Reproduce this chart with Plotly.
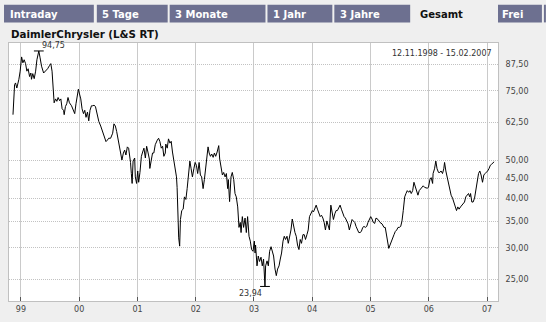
import numpy as np
import plotly.graph_objects as go

# ---------------- data ----------------
dates = [
    "1998-11-12", "1998-11-16", "1998-11-22", "1998-11-28", "1998-12-06", "1998-12-19", "1998-12-27",
    "1999-01-05", "1999-01-13", "1999-01-21", "1999-01-30", "1999-02-07", "1999-02-15", "1999-02-24",
    "1999-03-04", "1999-03-08", "1999-03-16", "1999-03-25", "1999-04-03", "1999-04-11", "1999-04-19",
    "1999-04-23", "1999-05-01", "1999-05-10", "1999-05-23", "1999-06-04", "1999-06-17", "1999-06-29",
    "1999-07-07", "1999-07-15", "1999-07-20", "1999-07-28", "1999-08-06", "1999-08-14", "1999-08-22",
    "1999-08-31", "1999-09-08", "1999-09-16", "1999-09-25", "1999-09-29", "1999-10-07", "1999-10-15",
    "1999-10-23", "1999-11-01", "1999-11-14", "1999-11-26", "1999-12-04", "1999-12-12", "1999-12-21",
    "1999-12-27",
    "2000-01-03", "2000-01-11", "2000-01-19", "2000-01-28", "2000-02-05", "2000-02-13", "2000-02-22",
    "2000-03-01", "2000-03-09", "2000-03-18", "2000-03-26", "2000-04-03", "2000-04-12", "2000-04-20",
    "2000-05-03", "2000-05-15", "2000-05-23", "2000-06-01", "2000-06-09", "2000-06-17", "2000-06-26",
    "2000-07-04", "2000-07-16", "2000-07-29", "2000-08-06", "2000-08-15", "2000-08-23", "2000-08-31",
    "2000-09-09", "2000-09-17", "2000-09-25", "2000-10-04", "2000-10-12", "2000-10-20", "2000-10-29",
    "2000-11-06", "2000-11-14", "2000-11-18", "2000-11-23", "2000-11-28", "2000-12-04", "2000-12-14",
    "2000-12-18", "2000-12-26",
    "2001-01-02", "2001-01-08", "2001-01-16", "2001-01-25", "2001-02-02", "2001-02-10", "2001-02-19",
    "2001-02-27", "2001-03-07", "2001-03-16", "2001-03-19", "2001-03-28", "2001-04-05", "2001-04-13",
    "2001-04-22", "2001-05-05", "2001-05-13", "2001-05-21", "2001-05-30", "2001-06-07", "2001-06-15",
    "2001-06-24", "2001-06-27", "2001-07-06", "2001-07-14", "2001-07-23", "2001-07-31", "2001-08-08",
    "2001-08-16", "2001-08-25", "2001-09-02", "2001-09-06", "2001-09-10", "2001-09-16", "2001-09-22",
    "2001-09-27", "2001-10-05", "2001-10-14", "2001-10-22", "2001-10-31", "2001-11-08", "2001-11-16",
    "2001-11-25", "2001-12-03", "2001-12-11", "2001-12-20", "2001-12-28",
    "2002-01-05", "2002-01-13", "2002-01-22", "2002-01-30", "2002-02-07", "2002-02-16", "2002-02-24",
    "2002-03-04", "2002-03-13", "2002-03-19", "2002-03-26", "2002-04-03", "2002-04-11", "2002-04-20",
    "2002-04-28", "2002-05-06", "2002-05-15", "2002-05-25", "2002-05-31", "2002-06-09", "2002-06-17",
    "2002-06-25", "2002-07-04", "2002-07-12", "2002-07-20", "2002-07-24", "2002-08-01", "2002-08-10",
    "2002-08-18", "2002-08-27", "2002-09-04", "2002-09-12", "2002-09-21", "2002-09-29", "2002-10-07",
    "2002-10-12", "2002-10-20", "2002-10-28", "2002-11-06", "2002-11-14", "2002-11-22", "2002-12-01",
    "2002-12-09", "2002-12-17", "2002-12-26",
    "2003-01-03", "2003-01-08", "2003-01-11", "2003-01-20", "2003-01-28", "2003-02-05", "2003-02-14",
    "2003-02-22", "2003-03-02", "2003-03-11", "2003-03-15", "2003-03-24", "2003-04-01", "2003-04-09",
    "2003-04-18", "2003-04-26", "2003-05-04", "2003-05-13", "2003-05-21", "2003-05-29", "2003-06-07",
    "2003-06-15", "2003-06-23", "2003-07-02", "2003-07-10", "2003-07-18", "2003-07-27", "2003-08-04",
    "2003-08-12", "2003-08-21", "2003-08-29", "2003-09-06", "2003-09-15", "2003-09-23", "2003-10-01",
    "2003-10-10", "2003-10-18", "2003-10-26", "2003-11-04", "2003-11-12", "2003-11-20", "2003-11-29",
    "2003-12-07", "2003-12-15", "2003-12-24",
    "2004-01-02", "2004-01-09", "2004-01-18", "2004-01-26", "2004-02-03", "2004-02-12", "2004-02-20",
    "2004-02-28", "2004-03-08", "2004-03-16", "2004-03-24", "2004-04-02", "2004-04-10", "2004-04-18",
    "2004-04-27", "2004-05-05", "2004-05-13", "2004-05-22", "2004-05-30", "2004-06-07", "2004-06-16",
    "2004-06-24", "2004-07-02", "2004-07-11", "2004-07-19", "2004-07-27", "2004-08-05", "2004-08-13",
    "2004-08-21", "2004-08-30", "2004-09-07", "2004-09-15", "2004-09-24", "2004-10-02", "2004-10-10",
    "2004-10-19", "2004-10-27", "2004-11-04", "2004-11-13", "2004-11-21", "2004-11-29", "2004-12-08",
    "2004-12-16", "2004-12-24",
    "2005-01-02", "2005-01-10", "2005-01-18", "2005-01-27", "2005-02-04", "2005-02-17", "2005-03-01",
    "2005-03-14", "2005-03-26", "2005-04-03", "2005-04-12", "2005-04-20", "2005-04-25", "2005-05-03",
    "2005-05-11", "2005-05-20", "2005-05-28", "2005-06-05", "2005-06-14", "2005-06-22", "2005-06-30",
    "2005-07-09", "2005-07-17", "2005-07-25", "2005-08-03", "2005-08-11", "2005-08-19", "2005-08-28",
    "2005-09-05", "2005-09-13", "2005-09-22", "2005-09-30", "2005-10-08", "2005-10-17", "2005-10-25",
    "2005-11-02", "2005-11-11", "2005-11-19", "2005-11-27", "2005-12-06", "2005-12-14", "2005-12-22",
    "2005-12-30",
    "2006-01-08", "2006-01-16", "2006-01-25", "2006-01-28", "2006-02-06", "2006-02-14", "2006-02-22",
    "2006-03-03", "2006-03-11", "2006-03-19", "2006-03-28", "2006-04-05", "2006-04-10", "2006-04-18",
    "2006-04-26", "2006-05-05", "2006-05-13", "2006-05-21", "2006-05-30", "2006-06-07", "2006-06-15",
    "2006-06-24", "2006-07-02", "2006-07-10", "2006-07-19", "2006-07-27", "2006-08-05", "2006-08-13",
    "2006-08-21", "2006-08-29", "2006-09-07", "2006-09-15", "2006-09-20", "2006-09-28", "2006-10-06",
    "2006-10-15", "2006-10-23", "2006-10-31", "2006-11-09", "2006-11-17", "2006-11-25", "2006-12-04",
    "2006-12-12", "2006-12-20", "2006-12-29",
    "2007-01-05", "2007-01-13", "2007-01-22", "2007-01-30", "2007-02-07", "2007-02-15",
]

prices = [
    65.3, 70.9, 77.8, 78.6, 76.3, 80.3, 84.2,
    91.5, 88.4, 90.0, 88.0, 84.2, 85.4, 81.6,
    83.3, 80.3, 83.0, 80.6, 84.2, 90.0, 92.9,
    94.75, 91.0, 86.7, 83.3, 84.2, 85.4, 87.0,
    88.0, 84.2, 78.6, 70.0, 71.6, 70.6, 72.2,
    70.9, 71.6, 67.6, 67.0, 65.3, 68.5, 69.6,
    72.2, 70.0, 68.8, 67.0, 65.7, 69.6, 73.7,
    75.8,
    73.7, 71.6, 67.6, 65.7, 67.0, 64.3, 66.3,
    63.0, 67.0, 68.8, 68.8, 69.0, 68.5, 65.7,
    62.8, 61.1, 59.9, 58.0, 56.9, 55.8, 56.3,
    56.9, 56.9, 58.6, 61.9, 61.1, 59.2, 56.9,
    54.8, 51.6, 50.1, 52.2, 53.1, 51.6, 54.1,
    53.7, 51.2, 49.4, 46.3, 43.7, 49.8, 50.7,
    45.4, 43.7,
    47.0, 44.0, 46.6, 51.2, 52.5, 53.7, 50.7,
    54.3, 52.5, 50.4, 47.7, 50.4, 52.2, 52.2,
    54.8, 56.3, 56.9, 55.8, 53.7, 54.3, 51.2,
    52.2, 55.0, 53.7, 56.7, 55.3, 55.9, 52.5,
    50.3, 47.6, 45.4, 42.7, 35.4, 31.8, 30.3,
    35.4, 37.3, 37.6, 40.4, 39.8, 42.4, 45.4,
    49.8, 47.6, 45.4, 47.6, 49.4,
    48.6, 46.3, 49.4, 45.9, 45.4, 42.4, 44.7,
    48.1, 50.4, 54.1, 52.2, 51.2, 51.9, 50.9,
    52.2, 51.2, 52.5, 54.5, 50.4, 47.6, 45.9,
    46.6, 45.4, 46.3, 42.4, 44.7, 39.3, 45.4,
    46.6, 44.7, 41.2, 40.4, 38.1, 33.8, 34.8,
    32.8, 36.0, 33.8, 35.7, 32.8, 36.0, 32.1,
    31.2, 29.7, 29.4,
    31.2, 29.1, 30.5, 27.0, 28.6, 27.7, 28.4,
    27.0, 28.1, 23.94, 27.0, 27.8, 27.0, 29.4,
    30.2, 29.1, 28.6, 26.5, 25.5, 26.5, 27.0,
    28.1, 29.1, 31.2, 32.1, 31.5, 32.1, 30.8,
    31.8, 33.3, 35.5, 34.0, 32.8, 32.1, 30.5,
    29.7, 31.5, 30.8, 32.4, 32.4, 31.5, 32.4,
    33.3, 36.0, 36.6,
    37.3, 37.0, 38.1, 38.5, 37.6, 36.6, 36.0,
    36.3, 35.7, 34.8, 33.3, 35.1, 34.0, 33.3,
    38.5, 36.6, 35.4, 36.6, 37.3, 37.3, 38.1,
    38.5, 37.6, 36.6, 36.0, 35.7, 35.1, 34.5,
    33.3, 34.5, 35.4, 35.1, 34.8, 34.0, 33.3,
    32.8, 32.8, 33.0, 33.8, 34.0, 33.8, 34.0,
    34.8, 35.4,
    36.0, 35.5, 34.8, 34.6, 35.7, 35.4, 34.8,
    34.5, 33.8, 33.8, 32.4, 30.8, 29.9, 30.5,
    31.2, 32.1, 32.4, 33.0, 33.3, 33.8, 33.8,
    34.0, 35.1, 37.3, 40.4, 41.2, 41.9, 41.5,
    41.9, 41.2, 41.9, 44.0, 43.1, 41.9, 40.8,
    41.9, 42.4, 42.7, 43.1, 42.7, 42.5, 42.5,
    42.7,
    44.7, 45.2, 43.7, 46.3, 47.6, 49.8, 47.6,
    46.6, 46.6, 47.0, 46.3, 47.6, 49.4, 47.0,
    45.4, 43.7, 42.4, 40.8, 40.1, 39.2, 38.1,
    37.3, 38.1, 37.6, 38.1, 38.5, 38.9, 39.2,
    40.4, 40.8, 41.2, 40.4, 41.2, 39.2, 39.2,
    40.1, 41.9, 44.7, 46.3, 47.0, 45.9, 44.0,
    45.9, 46.3, 46.6,
    47.0, 47.6, 48.6, 48.9, 49.4, 49.6,
]

year_ticks = ["1999-01-01", "2000-01-01", "2001-01-01", "2002-01-01", "2003-01-01",
              "2004-01-01", "2005-01-01", "2006-01-01", "2007-01-01"]
year_labels = ["99", "00", "01", "02", "03", "04", "05", "06", "07"]
price_ticks = [25, 30, 35, 40, 45, 50, 62.5, 75, 87.5]
price_labels = ["25,00", "30,00", "35,00", "40,00", "45,00", "50,00", "62,50", "75,00", "87,50"]
tab_names = ["Intraday", "5 Tage", "3 Monate", "1 Jahr", "3 Jahre", "Gesamt", "Frei"]
chart_title = "DaimlerChrysler (L&S RT)"
range_text = "12.11.1998 - 15.02.2007"

# ---------------- layout geometry ----------------
W, H = 546, 322
ML, MR, MT, MB = 8, 48, 43, 16
PW, PH = W - ML - MR, H - MT - MB

def pxx(x):
    return (x - ML) / PW

def pxy(y):
    return (H - MB - y) / PH

FONT = "DejaVu Sans"
TAB_COLOR = "#6d7090"
BG = "#efefef"

fig = go.Figure()
fig.add_trace(go.Scatter(x=dates, y=prices, mode="lines",
                         line=dict(color="black", width=1), hoverinfo="skip",
                         showlegend=False))

imax = int(np.argmax(prices))
imin = int(np.argmin(prices))
fig.add_trace(go.Scatter(x=[dates[imax], dates[imin]], y=[prices[imax], prices[imin]],
                         mode="markers", hoverinfo="skip", showlegend=False,
                         marker=dict(symbol="line-ew", size=7, color="black",
                                     line=dict(width=1, color="black"))))

def fmt(v):
    return f"{v:.2f}".replace(".", ",")

annotations = [
    dict(x=dates[imax], y=np.log10(prices[imax]), xref="x", yref="y", text=fmt(prices[imax]),
         showarrow=False, xanchor="left", yanchor="middle", xshift=1, yshift=5,
         font=dict(family=FONT, size=8, color="#333")),
    dict(x=dates[imin], y=np.log10(prices[imin]), xref="x", yref="y", text=fmt(prices[imin]),
         showarrow=False, xanchor="right", yanchor="middle", xshift=-1, yshift=-7,
         font=dict(family=FONT, size=8, color="#333")),
    dict(x=pxx(493.5), y=pxy(53.3), xref="paper", yref="paper", text=range_text,
         showarrow=False, xanchor="right", yanchor="middle",
         font=dict(family=FONT, size=8, color="#333")),
    dict(x=pxx(7.5), y=pxy(34.0), xref="paper", yref="paper", text="<b>" + chart_title + "</b>",
         showarrow=False, xanchor="left", yanchor="middle",
         font=dict(family=FONT, size=10.3, color="#111")),
]

# tabs: (left, right, text-left)
tab_boxes = [(3, 93, 7), (96, 167, 99.3), (169, 265, 172.3), (267, 332, 270.7),
             (334, 410, 337.7), (412, 496, 417.5), (498, 542, 500.5)]
shapes = []
for name, (x0, x1, tx) in zip(tab_names, tab_boxes):
    selected = name == "Gesamt"
    if not selected:
        shapes.append(dict(type="rect", xref="paper", yref="paper",
                           x0=pxx(x0), x1=pxx(x1), y0=pxy(22), y1=pxy(4),
                           fillcolor=TAB_COLOR, line=dict(width=0), layer="above"))
    annotations.append(dict(x=pxx(tx), y=pxy(13.5), xref="paper", yref="paper",
                            text="<b>" + name + "</b>", showarrow=False,
                            xanchor="left", yanchor="middle",
                            font=dict(family=FONT, size=10,
                                      color="#111" if selected else "white")))
shapes.append(dict(type="rect", xref="paper", yref="paper",
                   x0=pxx(544), x1=pxx(546), y0=pxy(22), y1=pxy(4),
                   fillcolor=TAB_COLOR, line=dict(width=0), layer="above"))

fig.update_layout(
    width=W, height=H,
    margin=dict(l=ML, r=MR, t=MT, b=MB, pad=0),
    paper_bgcolor=BG, plot_bgcolor="white",
    showlegend=False,
    annotations=annotations,
    shapes=shapes,
    hovermode=False,
    xaxis=dict(
        type="date", range=["1998-10-18", "2007-03-11"],
        tickmode="array", tickvals=year_ticks, ticktext=year_labels,
        showgrid=True, gridcolor="#cacaca", gridwidth=1,
        ticks="inside", ticklen=4, tickcolor="#555", tickwidth=1,
        showline=True, mirror=True, linecolor="#c0c0c0", linewidth=1,
        zeroline=False, tickfont=dict(family=FONT, size=8, color="#444"),
        fixedrange=True,
    ),
    yaxis=dict(
        type="log", side="right",
        range=[np.log10(21.99), np.log10(99.26)],
        tickmode="array", tickvals=price_ticks, ticktext=price_labels,
        showgrid=True, gridcolor="#c2c2c2", gridwidth=1, griddash="1px,1px",
        ticks="", showline=True, mirror=True, linecolor="#c0c0c0", linewidth=1,
        zeroline=False, tickfont=dict(family=FONT, size=8, color="#444"),
        ticklabelstandoff=5, fixedrange=True,
    ),
)

fig.write_html("out.html", config=dict(displayModeBar=False))
